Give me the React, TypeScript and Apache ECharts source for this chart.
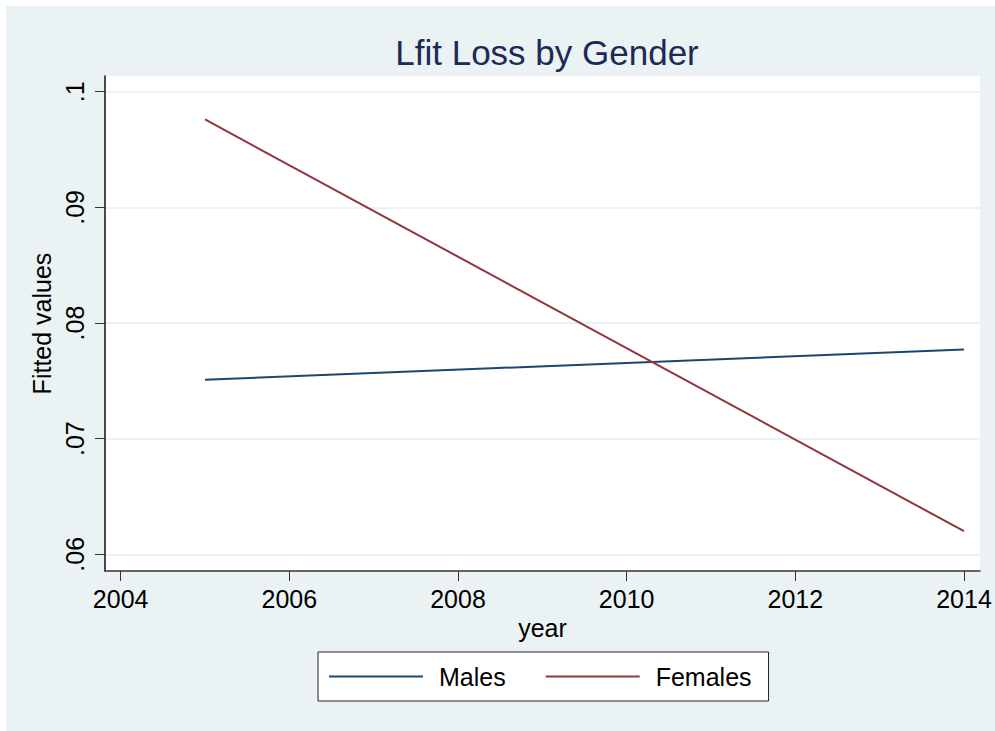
import React, { useEffect, useRef } from "react";
import * as echarts from "echarts";

const seriesNames = ["Males", "Females"];
const years = [2005, 2014];
const malesFit = [0.0751, 0.0777];
const femalesFit = [0.0976, 0.0620];
const xTicks = [2004, 2006, 2008, 2010, 2012, 2014];
const yTicks = [0.06, 0.07, 0.08, 0.09, 0.1];

const FONT = "'Liberation Sans', Arial, Helvetica, sans-serif";

export default function App() {
  const ref = useRef<HTMLDivElement>(null);
  useEffect(() => {
    if (!ref.current) return;
    const chart = echarts.init(ref.current, undefined, { renderer: "svg" });
    const fmtY = (v: number) =>
      v.toFixed(2).replace(/0$/, "").replace(/^0/, "");
    chart.setOption({
      animation: false,
      backgroundColor: "#eaf2f3",
      title: {
        text: "Lfit Loss by Gender",
        left: 542,
        textAlign: "center",
        top: 30,
        textStyle: { fontFamily: FONT, fontSize: 35, fontWeight: "normal", color: "#1c2a55" },
      },
      graphic: [
        { type: "rect", shape: { x: 0, y: 0, width: 995, height: 6 }, style: { fill: "#ffffff" }, silent: true },
        { type: "rect", shape: { x: 0, y: 0, width: 6, height: 731 }, style: { fill: "#ffffff" }, silent: true },
      ],
      grid: {
        left: 105,
        right: 15,
        top: 76,
        bottom: 160,
        show: true,
        backgroundColor: "#ffffff",
        borderWidth: 0,
      },
      legend: {
        data: seriesNames,
        left: 318,
        top: 652,
        orient: "horizontal",
        backgroundColor: "#ffffff",
        borderColor: "#222222",
        borderWidth: 1,
        borderRadius: 0,
        padding: [12, 17, 12, 11],
        itemGap: 40,
        itemWidth: 94,
        itemHeight: 2,
        icon: "rect",
        textStyle: {
          fontFamily: FONT,
          fontSize: 25,
          color: "#000000",
          lineHeight: 24,
          padding: [0, 0, 0, 11],
        },
      },
      xAxis: {
        type: "value",
        min: 2003.814,
        max: 2014.19,
        name: "year",
        nameLocation: "middle",
        nameGap: 41,
        nameTextStyle: { fontFamily: FONT, fontSize: 25, color: "#000000" },
        axisLine: { show: true, lineStyle: { color: "#333333", width: 1.5 } },
        axisTick: { show: true, length: 10, lineStyle: { color: "#333333", width: 1 }, customValues: xTicks },
        axisLabel: {
          customValues: xTicks,
          margin: 15,
          fontFamily: FONT,
          fontSize: 25,
          color: "#000000",
          formatter: (v: number) => String(Math.round(v)),
        },
        splitLine: { show: false },
      },
      yAxis: {
        type: "value",
        min: 0.058556,
        max: 0.101358,
        name: "Fitted values",
        nameLocation: "middle",
        nameRotate: 90,
        nameGap: 47,
        nameTextStyle: { fontFamily: FONT, fontSize: 25, color: "#000000" },
        axisLine: { show: true, lineStyle: { color: "#111111", width: 1.5 } },
        axisTick: { show: true, length: 10, lineStyle: { color: "#333333", width: 1 }, customValues: yTicks },
        axisLabel: {
          customValues: yTicks,
          rotate: 90,
          margin: 18,
          fontFamily: FONT,
          fontSize: 25,
          color: "#000000",
          formatter: fmtY,
        },
        splitLine: { show: true, customValues: yTicks, lineStyle: { color: "#e6eef0", width: 1.5 } },
      },
      series: [
        {
          name: seriesNames[0],
          type: "line",
          data: years.map((y, i) => [y, malesFit[i]]),
          showSymbol: false,
          symbol: "none",
          lineStyle: { color: "#1a476f", width: 2 },
          itemStyle: { color: "#1a476f" },
        },
        {
          name: seriesNames[1],
          type: "line",
          data: years.map((y, i) => [y, femalesFit[i]]),
          showSymbol: false,
          symbol: "none",
          lineStyle: { color: "#90353b", width: 2 },
          itemStyle: { color: "#90353b" },
        },
      ],
    });
    return () => chart.dispose();
  }, []);
  return (
    <div
      ref={ref}
      style={{ position: "fixed", left: 0, top: 0, width: 995, height: 731 }}
    />
  );
}
